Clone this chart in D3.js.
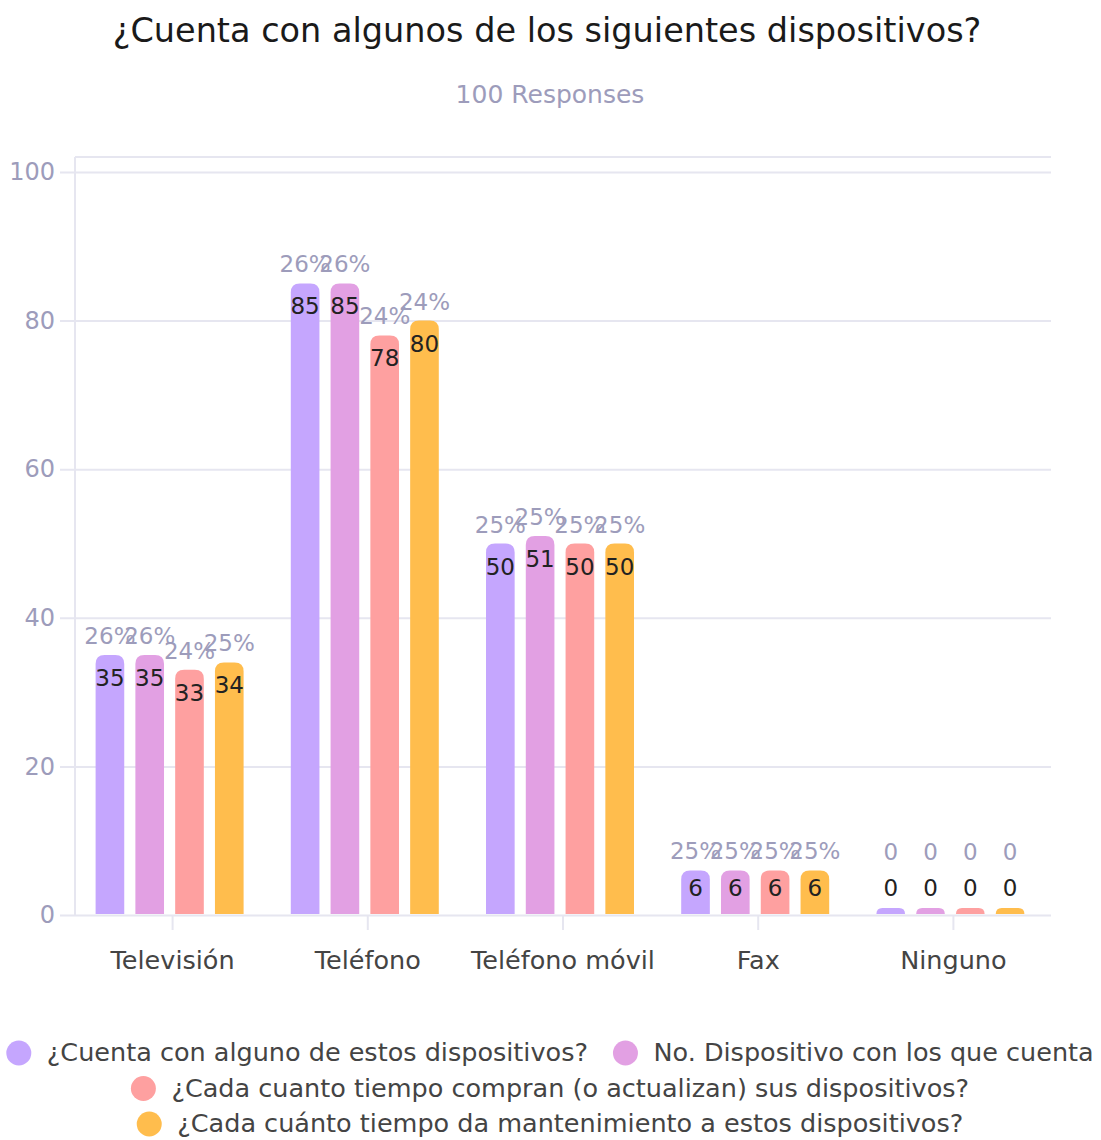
<!DOCTYPE html>
<html>
<head>
<meta charset="utf-8">
<script src="https://cdn.jsdelivr.net/npm/d3@7"></script>
<style>
  body { margin: 0; background: #fff; }
  svg { font-family: "DejaVu Sans", "Noto Sans", sans-serif; }
</style>
</head>
<body>
<div id="graph"></div>
<script>
"use strict";

var categories = ["Televisión", "Teléfono", "Teléfono móvil", "Fax", "Ninguno"];
var seriesNames = [
  "¿Cuenta con alguno de estos dispositivos?",
  "No. Dispositivo con los que cuenta",
  "¿Cada cuanto tiempo compran (o actualizan) sus dispositivos?",
  "¿Cada cuánto tiempo da mantenimiento a estos dispositivos?"
];
// values per series, one entry per category
var cuenta        = [35, 85, 50, 6, 0];
var noDispositivo = [35, 85, 51, 6, 0];
var compran       = [33, 78, 50, 6, 0];
var mantenimiento = [34, 80, 50, 6, 0];
// percent labels shown above bars
var pctCuenta        = ["26%", "26%", "25%", "25%", "0"];
var pctNoDispositivo = ["26%", "26%", "25%", "25%", "0"];
var pctCompran       = ["24%", "24%", "25%", "25%", "0"];
var pctMantenimiento = ["25%", "24%", "25%", "25%", "0"];
var yTicks = [0, 20, 40, 60, 80, 100];
var colors = ["#c5a6fe", "#e2a0e3", "#fea0a0", "#ffbd4d"];

var series = [cuenta, noDispositivo, compran, mantenimiento];
var pcts = [pctCuenta, pctNoDispositivo, pctCompran, pctMantenimiento];

var w = 1101, h = 1140,
    mLeft = 75, mRight = 1051, mTop = 172, mBottom = 915;

var svg = d3.select("#graph")
            .append("svg")
            .attr("width", w)
            .attr("height", h);

// title
svg.append("text")
  .attr("x", 547).attr("y", 42)
  .attr("text-anchor", "middle")
  .attr("font-size", 33.5)
  .attr("fill", "#1a1a1a")
  .text("¿Cuenta con algunos de los siguientes dispositivos?");

svg.append("text")
  .attr("x", 550).attr("y", 103)
  .attr("text-anchor", "middle")
  .attr("font-size", 25)
  .attr("fill", "#9d9cbb")
  .text("100 Responses");

var x0 = d3.scaleBand().domain(categories).range([mLeft, mRight]);
var x1 = d3.scaleBand().domain(d3.range(series.length))
  .range([0, 148]).paddingInner(0.28);
var y = d3.scaleLinear().domain([0, 100]).range([mBottom, mTop]);

// frame line on top
svg.append("line")
  .attr("x1", mLeft).attr("x2", mRight)
  .attr("y1", mTop - 15).attr("y2", mTop - 15)
  .attr("stroke", "#e6e6f0").attr("stroke-width", 2);

// y axis with grid
var yAxis = svg.append("g")
  .attr("transform", "translate(" + mLeft + ",0)")
  .call(d3.axisLeft(y).tickValues(yTicks).tickSize(-(mRight - mLeft)).tickPadding(20));
yAxis.select(".domain").remove();
yAxis.selectAll(".tick line")
  .attr("x1", -15)
  .attr("stroke", "#e6e6f0").attr("stroke-width", 2);
yAxis.selectAll(".tick text")
  .attr("font-size", 24).attr("fill", "#9d9cbb")
  .attr("font-family", "DejaVu Sans, sans-serif");

svg.append("line")
  .attr("x1", mLeft).attr("x2", mLeft)
  .attr("y1", mTop - 15).attr("y2", mBottom)
  .attr("stroke", "#e6e6f0").attr("stroke-width", 2);

// x axis
var xAxis = svg.append("g")
  .attr("transform", "translate(0," + mBottom + ")")
  .call(d3.axisBottom(x0).tickSize(15).tickPadding(21));
xAxis.select(".domain").remove();
xAxis.selectAll(".tick line").attr("stroke", "#e6e6f0").attr("stroke-width", 2);
xAxis.selectAll(".tick text")
  .attr("font-size", 25.5).attr("fill", "#444")
  .attr("font-family", "DejaVu Sans, sans-serif");

// bars
function barPath(x, yTop, bw, yBase, r) {
  var hh = yBase - yTop;
  r = Math.min(r, hh, bw / 2);
  return "M" + x + "," + yBase +
    "V" + (yTop + r) +
    "Q" + x + "," + yTop + " " + (x + r) + "," + yTop +
    "H" + (x + bw - r) +
    "Q" + (x + bw) + "," + yTop + " " + (x + bw) + "," + (yTop + r) +
    "V" + yBase + "Z";
}

var groups = svg.selectAll("g.cat")
  .data(categories)
  .enter()
  .append("g")
  .attr("class", "cat")
  .attr("transform", function(d) {
    return "translate(" + (x0(d) + x0.bandwidth() / 2 - 77) + ",0)";
  });

groups.each(function(cat, ci) {
  var g = d3.select(this);
  var items = series.map(function(s, si) {
    return { si: si, v: s[ci], pct: pcts[si][ci] };
  });
  g.selectAll("path")
    .data(items)
    .enter()
    .append("path")
    .attr("d", function(d) {
      var yt = Math.min(y(d.v), mBottom - 7);
      return barPath(x1(d.si), yt, x1.bandwidth(), mBottom - 1, 9);
    })
    .attr("fill", function(d) { return colors[d.si]; });

  g.selectAll("text.val")
    .data(items)
    .enter()
    .append("text")
    .attr("class", "val")
    .attr("x", function(d) { return x1(d.si) + x1.bandwidth() / 2; })
    .attr("y", function(d) { return Math.min(y(d.v) + 31, mBottom - 19); })
    .attr("text-anchor", "middle")
    .attr("font-size", 23)
    .attr("fill", "#222")
    .text(function(d) { return d.v; });

  g.selectAll("text.pct")
    .data(items)
    .enter()
    .append("text")
    .attr("class", "pct")
    .attr("x", function(d) { return x1(d.si) + x1.bandwidth() / 2; })
    .attr("y", function(d) { return Math.min(y(d.v) - 11, mBottom - 55); })
    .attr("text-anchor", "middle")
    .attr("font-size", 23)
    .attr("fill", "#9d9cbb")
    .text(function(d) { return d.pct; });
});

// legend, wrapped and centred
var legend = svg.append("g");
var lg = legend.selectAll("g")
  .data(seriesNames)
  .enter()
  .append("g");
lg.append("circle")
  .attr("r", 12.5)
  .attr("cx", 12)
  .attr("fill", function(d, i) { return colors[i]; });
lg.append("text")
  .attr("x", 40).attr("y", 8)
  .attr("font-size", 25.5)
  .attr("fill", "#444")
  .text(function(d) { return d; });

var widths = [];
lg.each(function() { widths.push(this.getBBox().width); });
var lines = [], cur = [], curW = 0, gap = 25;
widths.forEach(function(wd, i) {
  var add = cur.length ? gap + wd : wd;
  if (cur.length && curW + add > w - 2) {
    lines.push({ items: cur, width: curW });
    cur = [i]; curW = wd;
  } else {
    cur.push(i); curW += add;
  }
});
lines.push({ items: cur, width: curW });
lines.forEach(function(line, li) {
  var xx = (w - line.width) / 2;
  line.items.forEach(function(i) {
    d3.select(lg.nodes()[i])
      .attr("transform", "translate(" + xx + "," + (1053 + li * 35.5) + ")");
    xx += widths[i] + gap;
  });
});
</script>
</body>
</html>
